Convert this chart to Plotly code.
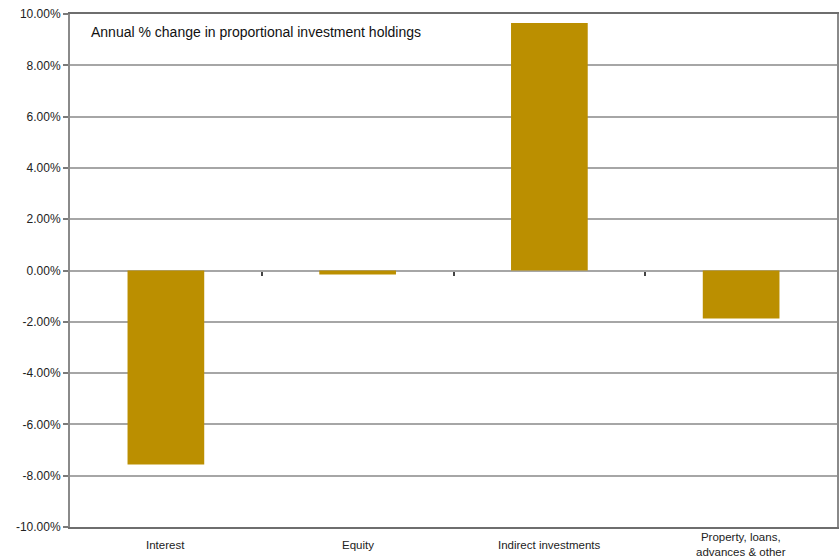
import plotly.graph_objects as go

# Annual % change in proportional investment holdings by asset class
categories = ["Interest", "Equity", "Indirect investments", "Property, loans,<br>advances & other"]
pct_change = [-7.56, -0.16, 9.65, -1.87]  # percent

y_ticks = list(range(-10, 11, 2))
y_tick_text = [f"{v:.2f}%" for v in y_ticks]
boundary_ticks = [i + 0.5 for i in range(len(categories) - 1)]

FONT = "Liberation Sans, Arial, Helvetica, sans-serif"
BAR = "#BB8F00"

fig = go.Figure()
fig.add_trace(go.Bar(
    x=categories, y=pct_change, marker=dict(color=BAR, line=dict(width=0)),
    width=0.4, showlegend=False,
))
# invisible helper trace so the category-boundary tick axis is rendered
fig.add_trace(go.Scatter(x=[-0.5, len(categories) - 0.5], y=[0, 0], xaxis="x2",
                         mode="lines", line=dict(width=0), hoverinfo="skip", showlegend=False))

# category labels, vertically centred under the plot (multi-line ones included)
cat_labels = [dict(
    text=c, x=c, xref="x", y=-0.035, yref="paper",
    xanchor="center", yanchor="middle", showarrow=False,
    font=dict(size=11.5, family=FONT, color="#222"),
) for c in categories]

fig.update_layout(
    width=840, height=559,
    margin=dict(l=70, r=3, t=14, b=32),
    paper_bgcolor="white", plot_bgcolor="white",
    font=dict(family=FONT, size=12, color="#222"),
    bargap=0.6,
    xaxis=dict(
        type="category", range=[-0.5, len(categories) - 0.5],
        showgrid=False, zeroline=False, ticks="", showticklabels=False,
        showline=True, mirror=True, linecolor="#6e6e6e", linewidth=1.5,
        automargin=False,
    ),
    xaxis2=dict(
        overlaying="x", anchor="free", position=0.5,
        range=[-0.5, len(categories) - 0.5],
        tickvals=boundary_ticks, ticks="outside", ticklen=4, tickwidth=1.5, tickcolor="#444",
        showticklabels=False, showgrid=False, zeroline=False, showline=False,
        automargin=False,
    ),
    yaxis=dict(
        range=[-10, 10], tickvals=y_ticks, ticktext=y_tick_text,
        showgrid=True, gridcolor="#a6a6a6", gridwidth=1.5,
        zeroline=True, zerolinecolor="#a6a6a6", zerolinewidth=1.5,
        ticks="outside", ticklen=5, tickwidth=1.5, tickcolor="#7a7a7a",
        showline=True, mirror=True, linecolor="#8a8a8a", linewidth=2,
        tickfont=dict(size=12, family=FONT, color="#222"),
        automargin=False,
    ),
    annotations=[dict(
        text="Annual % change in proportional investment holdings",
        xref="paper", yref="paper", x=0.025, y=0.965,
        xanchor="left", yanchor="middle", showarrow=False,
        font=dict(size=14, family=FONT, color="#111"),
    )] + cat_labels,
)

fig.write_html("out.html")
